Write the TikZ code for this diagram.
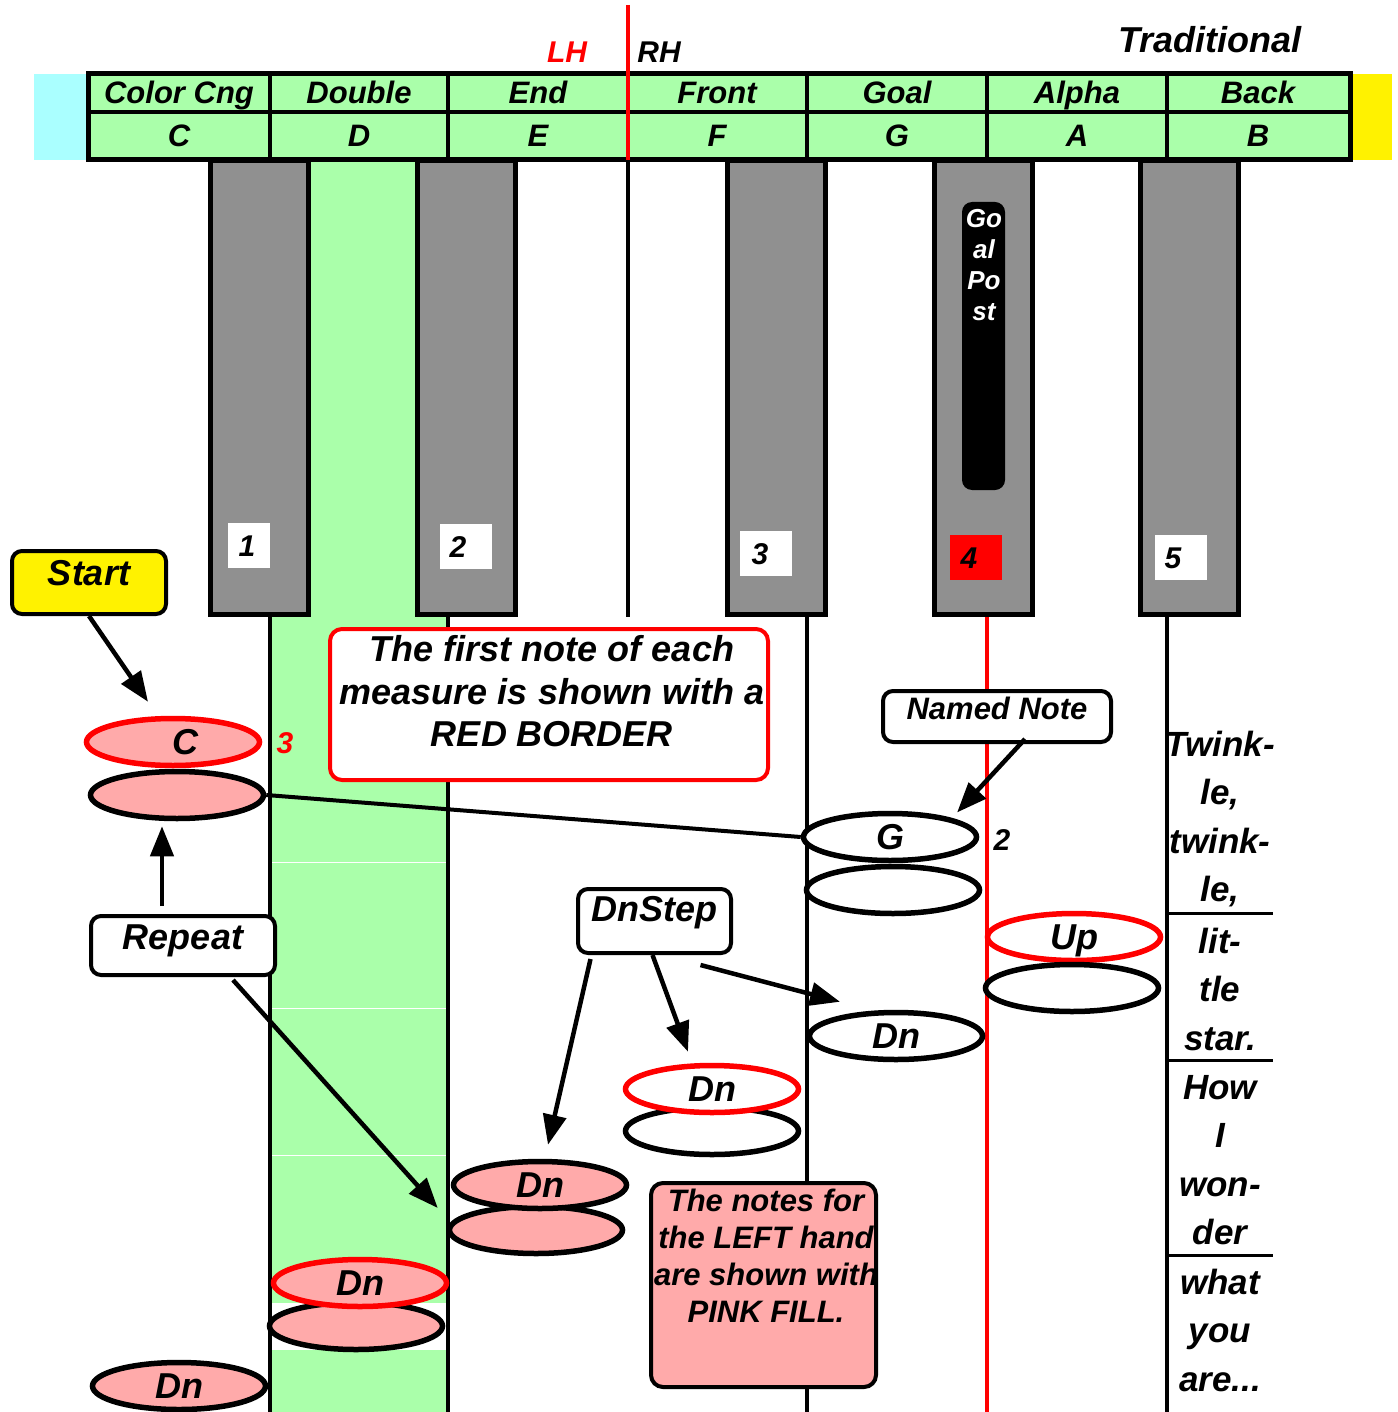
\documentclass[tikz,border=0pt]{standalone}
\usepackage{fontspec}
\setmainfont{Liberation Sans}
\usetikzlibrary{shapes.geometric,arrows.meta}
\definecolor{padgreen}{HTML}{AAFFAA}
\definecolor{padcyan}{HTML}{AAFFFF}
\definecolor{lhpink}{HTML}{FFAAAA}
\definecolor{keygray}{HTML}{909090}
\newcommand{\kfont}[2]{\fontsize{#1pt}{#2pt}\selectfont\bfseries\itshape}
\tikzset{
  lbl/.style={font=\kfont{#1}{#1}, inner sep=0pt, text height={0.72*#1pt}, text depth=0pt},
  blackkey/.style={draw, fill=keygray, line width=5pt},
  numbox/.style={lbl=30, minimum height=45pt},
  note/.style={ellipse, draw, line width=5.5pt, fill=white, minimum width=173pt, minimum height=47pt, lbl=36},
  first/.style={note, draw=red},
  callout/.style={draw, line width=4pt, rounded corners=10pt, fill=white, font=\kfont{#1}{#1}, inner sep=0pt, text height={0.72*#1pt}},
  lyric/.style={font=\kfont{35}{48.5}, align=center, inner sep=0pt},
  arr/.style={line width=4.5pt, -{Triangle[length=30pt,width=23pt]}},
}

\begin{document}
\begin{tikzpicture}[x=1pt,y=-1pt]
\useasboundingbox (0,0) rectangle (1397,1412);
% green strip of the D key
\fill[padgreen] (270,160) rectangle (448,1412);
\fill[white] (270,1303) rectangle (448,1350);
\foreach \y in {862,1008,1155}
  \draw[white, line width=1pt] (272,\y) -- (446,\y);
% white key edges
\foreach \x in {270,448,807,1167}
  \draw[line width=4pt] (\x,160) -- (\x,1412);
\draw[line width=4pt] (628,160) -- (628,617);
\draw[line width=4pt] (987,160) -- (987,617);
\draw[red, line width=3.5pt] (987,617) -- (987,1412);
% header table
\fill[padcyan] (34,74) rectangle (88,160);
\fill[yellow] (1350,74) rectangle (1392,160);
\fill[padgreen] (88,74) rectangle (1350,160);
\foreach \x in {270,448,807,987,1167}
  \draw[line width=4pt] (\x,74) -- (\x,160);
\draw[line width=4pt] (88,112) -- (1350,112);
\draw[line width=5pt] (88,74) rectangle (1350,160);
\draw[red, line width=4pt] (628,5) -- (628,160);
\foreach \nm/\lt/\cx in {Color Cng/C/179, Double/D/359, End/E/538, Front/F/717, Goal/G/897, Alpha/A/1077, Back/B/1258} {
  \node[lbl=31] (nm\lt) at (\cx,92) {\nm};
  \node[lbl=31] (lt\lt) at (\cx,135) {\lt};
}
\node[lbl=30, text=red] (lh) at (567,52) {LH};
\node[lbl=30] (rh) at (659,52) {RH};
\node[lbl=36] (trad) at (1210,40) {Traditional};

% black keys
\foreach \x in {210.5,417.5,727.5,934.5,1140.5}
  \draw[blackkey] (\x,160.5) rectangle ++(98,454);
\fill[black, rounded corners=10pt] (962,202) rectangle (1005,490);
\node[font=\kfont{26}{31}, text=white, align=center, inner sep=0pt] (goalpost) at (984,265) {Go\\al\\Po\\st};
\foreach \n/\cx/\cy/\w/\c/\s in {1/249/545.5/42/white/4, 2/466/546.5/52/white/16, 3/766/553.5/52/white/12, 4/976/557.5/52/red/14, 5/1181/557.5/52/white/16}
  \node[numbox, fill=\c, minimum width=\w pt] (num\n) at (\cx,\cy) {\n\hspace*{\s pt}};

% notes
\node[note, fill=lhpink] (c2) at (177,795) {};
\node[first, fill=lhpink] (c1) at (173,742) {\hspace*{24pt}C};
\node[lbl=30, text=red] (m1) at (285,743) {3};
\node[note] (g2) at (893,890) {};
\node[note] (g1) at (890,837) {G};
\node[lbl=30] (m2) at (1002,840) {2};
\node[first] (u1) at (1074,937) {Up};
\node[note] (u2) at (1072,988) {};
\node[note] (d1) at (896,1036) {Dn};
\node[note] (d3) at (712,1131) {};
\node[first] (d2) at (712,1089) {Dn};
\node[note, fill=lhpink] (e2) at (536,1230) {};
\node[note, fill=lhpink] (e1) at (540,1185) {Dn};
\node[note, fill=lhpink] (f2) at (356,1326) {};
\node[first, fill=lhpink] (f1) at (360,1283) {Dn};
\node[note, fill=lhpink] (b1) at (179,1386) {Dn};

% callouts
\node[callout=36, fill=yellow, text depth=20pt, minimum width=154pt, minimum height=63pt] (start) at (89,582.5) {Start};
\node[callout=36, text depth=17pt, minimum width=184pt, minimum height=59pt] (repeat) at (183,945.5) {Repeat};
\node[callout=36, text depth=24pt, minimum width=153pt, minimum height=64pt] (dnstep) at (654.5,921) {DnStep};
\node[callout=31, text depth=17pt, minimum width=228pt, minimum height=51pt] (named) at (997,716.5) {Named Note};
\node[draw=red, line width=4pt, rounded corners=12pt, fill=white, minimum width=438pt, minimum height=151pt] (firstbox) at (549,704.5) {};
\node[font=\kfont{36}{42.5}, align=center, inner sep=0pt] (firsttxt) at (552,691.5) {The first note of each\\measure is shown with a\\RED BORDER};
\node[draw, line width=4pt, rounded corners=12pt, fill=lhpink, minimum width=225pt, minimum height=204pt] (pinkbox) at (763.5,1285) {};
\node[font=\kfont{31}{37}, align=center, inner sep=0pt] (pinktxt) at (766,1255.5) {The notes for\\the LEFT hand\\are shown with\\PINK FILL.};

% lyrics
\foreach \y in {913,1060,1255}
  \draw[line width=3pt] (1167,\y) -- (1273,\y);
\node[lyric] (ly1) at (1220,819) {Twink-\\le,\\twink-\\le,};
\node[lyric] (ly2) at (1220,989) {lit-\\tle\\star.};
\node[lyric] (ly3) at (1220,1160) {How\\I\\won-\\der};
\node[lyric] (ly4) at (1220,1330) {what\\you\\are...};

% connectors
\draw[line width=4pt] (c2.east) -- (g1.west);
\draw[arr] (start.south) -- ([xshift=-25pt,yshift=14pt]c1.north);
\draw[arr] ([xshift=-21pt,yshift=8pt]repeat.north) -- ([xshift=-15pt,yshift=-5pt]c2.south);
\draw[arr] ([xshift=50pt,yshift=-3pt]repeat.south) -- ([xshift=-9pt,yshift=22pt]e2.west);
\draw[arr] ([xshift=-64pt,yshift=-4pt]dnstep.south) -- ([xshift=8pt,yshift=14pt]e1.north);
\draw[arr] ([xshift=-2pt]dnstep.south) -- ([xshift=-24pt,yshift=11pt]d2.north);
\draw[arr] ([xshift=46pt,yshift=-10pt]dnstep.south) -- ([xshift=-56pt,yshift=8pt]d1.north);
\draw[arr] ([xshift=28pt,yshift=5pt]named.south) -- ([xshift=4pt,yshift=6pt]g1.north east);

\end{tikzpicture}
\end{document}
